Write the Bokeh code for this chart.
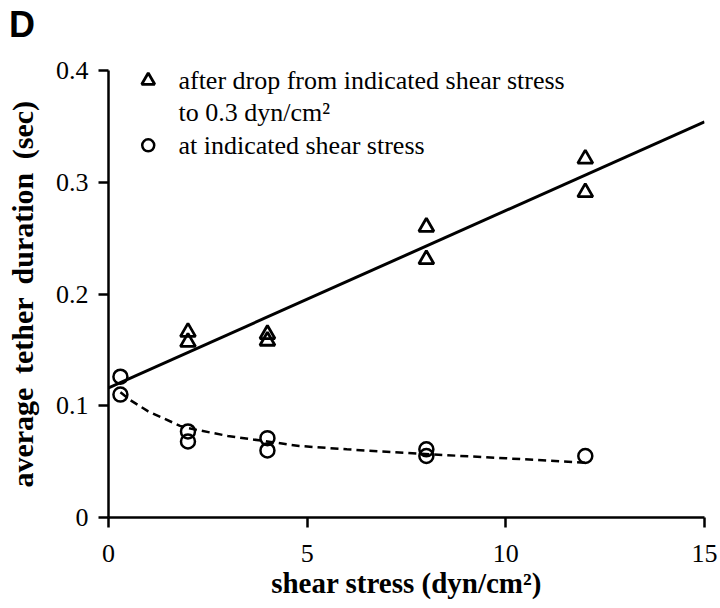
from bokeh.plotting import figure
from bokeh.layouts import column
from bokeh.models import Range1d, ColumnDataSource, FixedTicker, Div
from bokeh.core.properties import value
from bokeh.embed import file_html
from bokeh.resources import INLINE

# ---- data ----
tri_x = [2, 2, 4, 4, 8, 8, 12, 12]
tri_y = [0.166, 0.157, 0.164, 0.158, 0.260, 0.231, 0.321, 0.291]

circ_x = [0.3, 0.3, 2, 2, 4, 4, 8, 8, 12]
circ_y = [0.126, 0.110, 0.077, 0.068, 0.071, 0.060, 0.061, 0.055, 0.055]

lin_x = [0, 15]
lin_y = [0.116, 0.354]

curve_x = [0.3, 0.55, 1.0, 1.8, 2.0, 3.0, 4.0, 4.8, 6.0, 7.85, 10.0, 12.0]
curve_y = [0.112, 0.105, 0.095, 0.082, 0.080, 0.073, 0.068, 0.064, 0.061, 0.057, 0.053, 0.049]

x_ticks = [0, 5, 10, 15]
y_ticks = [0, 0.1, 0.2, 0.3, 0.4]
y_tick_labels = {0: "0", 0.1: "0.1", 0.2: "0.2", 0.3: "0.3", 0.4: "0.4"}

legend_labels = ["after drop from indicated shear stress", "to 0.3 dyn/cm\u00b2", "at indicated shear stress"]

SERIF = "Liberation Serif"

panel_letter = Div(
    text='<div style="font-family:\'Liberation Sans\'; font-weight:bold; font-size:36px; '
         'line-height:36px; padding:7px 0 0 9px; margin:0; color:black;">D</div>',
    width=720, height=40, margin=0)

p = figure(frame_width=596, frame_height=447, width=720, height=566,
           x_range=Range1d(0, 15), y_range=Range1d(0, 0.4),
           output_backend="svg", toolbar_location=None,
           min_border_left=108, min_border_right=16,
           min_border_top=30, min_border_bottom=89, margin=0)

p.outline_line_color = None
p.xgrid.visible = False
p.ygrid.visible = False
p.background_fill_color = "white"
p.border_fill_color = "white"

for ax in (p.xaxis[0], p.yaxis[0]):
    ax.axis_line_width = 2.5
    ax.axis_line_color = "black"
    ax.major_tick_line_width = 2.5
    ax.major_tick_line_color = "black"
    ax.major_tick_out = 10
    ax.major_tick_in = 0
    ax.minor_tick_line_color = None
    ax.major_label_text_font = SERIF
    ax.major_label_text_font_size = "26px"
    ax.major_label_text_color = "black"
    ax.axis_label_text_font = SERIF
    ax.axis_label_text_font_style = "bold"
    ax.axis_label_text_color = "black"

p.xaxis[0].axis_label_text_font_size = "29px"
p.yaxis[0].axis_label_text_font_size = "30px"
p.xaxis[0].ticker = FixedTicker(ticks=x_ticks)
p.yaxis[0].ticker = FixedTicker(ticks=y_ticks)
p.yaxis[0].major_label_overrides = y_tick_labels
p.xaxis[0].major_label_standoff = 17
p.yaxis[0].major_label_standoff = 10
p.yaxis[0].major_label_orientation = "horizontal"
p.xaxis[0].axis_label = "shear stress (dyn/cm\u00b2)"
p.yaxis[0].axis_label = "average \u2009tether \u2009duration \u2009(sec)"
p.xaxis[0].axis_label_standoff = 2
p.yaxis[0].axis_label_standoff = 14

# fits
p.line(lin_x, lin_y, line_color="black", line_width=3)
p.line(curve_x, curve_y, line_color="black", line_width=2.5, line_dash="8 5")

# data
p.scatter(tri_x, tri_y, marker="triangle", size=15, fill_color=None,
          line_color="black", line_width=2.8)
p.scatter(circ_x, circ_y, marker="circle", size=14, fill_color=None,
          line_color="black", line_width=2.5)

# legend (manual)
leg_mx = 1.0
leg_tx = 1.76
leg_y = [0.391, 0.362, 0.333]
p.scatter([leg_mx], [leg_y[0]], marker="triangle", size=13, fill_color=None,
          line_color="black", line_width=2.8)
p.scatter([leg_mx], [leg_y[2]], marker="circle", size=12, fill_color=None,
          line_color="black", line_width=2.5)
src = ColumnDataSource(dict(x=[leg_tx] * 3, y=leg_y, t=legend_labels))
p.text(x="x", y="y", text="t", source=src, text_font=value(SERIF),
       text_font_size="26px", text_baseline="middle", text_align="left",
       text_color="black")

layout = column(panel_letter, p, spacing=0, margin=0)
open("out.html", "w").write(file_html(layout, INLINE))
